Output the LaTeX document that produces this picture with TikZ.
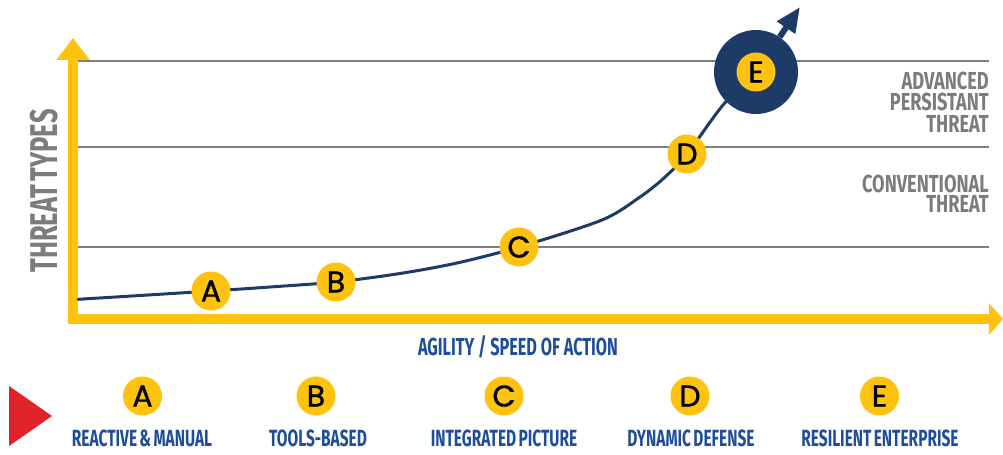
\documentclass[tikz,border=0pt]{standalone}
\usepackage{fontspec}
\usetikzlibrary{arrows.meta}
\newfontfamily\condfont[FakeStretch=0.66]{Fira Sans}
\newfontfamily\graycond[FakeStretch=0.74]{Fira Sans}
\newfontfamily\geofont[FakeBold=1.2]{Poppins}
\definecolor{axisyellow}{HTML}{FFC20F}
\definecolor{navy}{HTML}{1E3A66}
\definecolor{gridgray}{HTML}{7F7F7F}
\definecolor{labelgray}{HTML}{7C7C7C}
\definecolor{textblue}{HTML}{1F4E98}
\definecolor{markred}{HTML}{E0232B}
\newcommand{\tsp}{\hspace{0.1em}}
\begin{document}
\begin{tikzpicture}[x=0.03cm,y=-0.03cm,
  gridline/.style={draw=gridgray, line width=0.06cm},
  dot/.style={circle, fill=axisyellow, minimum size=1.17cm, inner sep=0pt,
    font=\geofont\fontsize{25.5}{25.5}\selectfont, text=black},
  graylbl/.style={anchor=base east, inner sep=0pt, text=labelgray,
    font=\graycond\bfseries\fontsize{21}{21}\selectfont},
  bluelbl/.style={anchor=base, inner sep=0pt, text=textblue,
    font=\condfont\bfseries\fontsize{20}{20}\selectfont},
  axisline/.style={draw=axisyellow, line width=0.3cm, line join=miter},
  curveline/.style={draw=navy, line width=0.09cm, line cap=round}
]
\useasboundingbox (0,0) rectangle (1003,455);

% grid lines
\coordinate (g1l) at (78,61.3);  \coordinate (g1r) at (989,61.3);
\coordinate (g2l) at (78,146.7); \coordinate (g2r) at (989,146.7);
\coordinate (g3l) at (78,246.7); \coordinate (g3r) at (989,246.7);
\draw[gridline] (g1l) -- (g1r);
\draw[gridline] (g2l) -- (g2r);
\draw[gridline] (g3l) -- (g3r);

% axes
\coordinate (ytip) at (73,38);
\coordinate (origin) at (73,319);
\coordinate (xtip) at (1003,319);
\draw[axisline, {Triangle[length=0.66cm,width=0.96cm]}-{Triangle[length=0.42cm,width=0.93cm]}]
  (ytip) -- (origin) -- (xtip);

% curve
\coordinate (c0) at (78,299.3);
\coordinate (c1) at (140,295.5);
\coordinate (pA) at (211,291);
\coordinate (c2) at (270,287);
\coordinate (pB) at (336,282);
\coordinate (c3) at (400,273.5);
\coordinate (c4) at (457,263);
\coordinate (pC) at (519,247);
\coordinate (c5) at (602,220);
\coordinate (c6) at (640,197);
\coordinate (c7) at (664,178);
\coordinate (pD) at (687,154);
\coordinate (c8) at (723,105);
\coordinate (pE) at (756,72);
\draw[curveline] plot[smooth, tension=0.5] coordinates
  {(c0) (c1) (pA) (c2) (pB) (c3) (c4) (pC) (c5) (c6) (c7) (pD) (c8) (pE)};

% points on curve
\node[dot] (A) at (pA) {A};
\node[dot] (B) at (pB) {B};
\node[dot] (C) at (pC) {C};
\node[dot] (D) at (pD) {D};
\node[circle, fill=navy, minimum size=2.52cm, inner sep=0pt] (Eout) at (pE) {};
\coordinate (etip) at (800,7);
\draw[draw=navy, line width=0.18cm, -{Triangle[length=0.75cm,width=0.62cm]}] (Eout) -- (etip);
\node[dot] (E) at (pE) {E};

% right labels
\node[graylbl] (l1) at (989,89.3) {ADVANCED};
\node[graylbl] (l2) at (989,111) {PERSISTANT};
\node[graylbl] (l3) at (989,132.7) {THREAT};
\node[graylbl] (l4) at (989,192.7) {CONVENTIONAL};
\node[graylbl] (l5) at (989,212.7) {THREAT};

% y axis title
\node[anchor=base, inner sep=0pt, rotate=90, text=labelgray,
  font=\condfont\bfseries\fontsize{33}{33}\selectfont] (ytitle) at (57,191) {THREAT\tsp TYPES};

% x axis title
\node[bluelbl, font=\condfont\bfseries\fontsize{21}{21}\selectfont] (xtitle) at (518,355) {AGILITY / SPEED OF ACTION};

% legend
\fill[markred] (9,386) -- (52,416) -- (9,446) -- cycle;
\node[dot] (LA) at (142.5,396) {A};
\node[dot] (LB) at (316,396) {B};
\node[dot] (LC) at (504,396) {C};
\node[dot] (LD) at (690,396) {D};
\node[dot] (LE) at (879.5,396) {E};
\node[bluelbl] (tA) at (142,446) {REACTIVE\tsp\&\tsp MANUAL};
\node[bluelbl] (tB) at (318,446) {TOOLS-BASED};
\node[bluelbl] (tC) at (504,446) {INTEGRATED\tsp PICTURE};
\node[bluelbl] (tD) at (691,446) {DYNAMIC\tsp DEFENSE};
\node[bluelbl] (tE) at (880,446) {RESILIENT\tsp ENTERPRISE};
\end{tikzpicture}
\end{document}
